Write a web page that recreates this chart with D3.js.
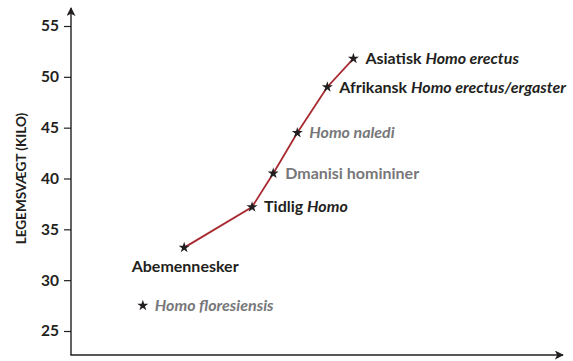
<!DOCTYPE html>
<html>
<head>
<meta charset="utf-8">
<script src="https://cdn.jsdelivr.net/npm/d3@7/dist/d3.min.js"></script>
<style>
  html, body { margin: 0; padding: 0; background: #fff; }
  svg { display: block; font-family: Lato, "Open Sans", sans-serif; }
</style>
</head>
<body>
<svg id="chart" width="573" height="361"></svg>
<script>
// Hominin groups: relative position along the x axis and body mass (kg)
const names = ["Abemennesker", "Tidlig Homo", "Dmanisi homininer", "Homo naledi",
  "Afrikansk Homo erectus/ergaster", "Asiatisk Homo erectus", "Homo floresiensis"];
const xPos = [23.0, 36.8, 41.1, 46.0, 52.1, 57.4, 14.6];
const mass = [33.2, 37.2, 40.5, 44.5, 49.0, 51.8, 27.5];
// which groups sit on the connected trend line
const onLine = [true, true, true, true, true, true, false];
// label text parts: [text, italic]
const labelParts = [
  [["Abemennesker", false]],
  [["Tidlig ", false], ["Homo", true]],
  [["Dmanisi homininer", false]],
  [["Homo naledi", true]],
  [["Afrikansk ", false], ["Homo erectus/ergaster", true]],
  [["Asiatisk ", false], ["Homo erectus", true]],
  [["Homo floresiensis", true]]
];
const labelGray = [false, false, true, true, false, false, true];
const yTicks = [25, 30, 35, 40, 45, 50, 55];

const svg = d3.select("#chart");
const dark = "#231f20", gray = "#77777a", red = "#a82a31";

const x = d3.scaleLinear().domain([0, 100]).range([71, 563]);
const y = d3.scaleLinear().domain([25, 55]).range([331, 26]);
const x0 = 71, yBase = 355;

// arrowhead
svg.append("defs").append("marker")
  .attr("id", "arrow").attr("viewBox", "0 0 10 10")
  .attr("refX", 9).attr("refY", 5)
  .attr("markerWidth", 9).attr("markerHeight", 9)
  .attr("markerUnits", "userSpaceOnUse")
  .attr("orient", "auto")
  .append("path").attr("d", "M0,0 L10,5 L0,10 L2.5,5 Z").attr("fill", dark);

// y axis
const yAxis = svg.append("g")
  .attr("transform", `translate(${x0},0)`)
  .call(d3.axisLeft(y).tickValues(yTicks).tickSize(7).tickPadding(5).tickFormat(d3.format("d")));
yAxis.select(".domain").remove();
yAxis.selectAll(".tick line").attr("stroke", dark).attr("stroke-width", 1.2);
yAxis.selectAll(".tick text")
  .attr("fill", dark).attr("font-size", 15.5).attr("font-weight", 700)
  .attr("font-family", "Lato, sans-serif");

svg.append("line")
  .attr("x1", x0).attr("y1", yBase).attr("x2", x0).attr("y2", 8)
  .attr("stroke", dark).attr("stroke-width", 1.4)
  .attr("marker-end", "url(#arrow)");

svg.append("line")
  .attr("x1", x0 - 0.7).attr("y1", yBase).attr("x2", x.range()[1]).attr("y2", yBase)
  .attr("stroke", dark).attr("stroke-width", 1.4)
  .attr("marker-end", "url(#arrow)");

// y axis title
svg.append("text")
  .attr("transform", `translate(26,${(y(25) + y(55)) / 2}) rotate(-90)`)
  .attr("text-anchor", "middle")
  .attr("fill", dark).attr("font-size", 13.5).attr("font-weight", 700)
  .text("LEGEMSVÆGT (KILO)");

const pts = names.map((n, i) => ({ name: n, x: xPos[i], y: mass[i], line: onLine[i], parts: labelParts[i], gray: labelGray[i] }));

// trend line
svg.append("path")
  .datum(pts.filter(d => d.line))
  .attr("fill", "none").attr("stroke", red).attr("stroke-width", 1.8)
  .attr("d", d3.line().x(d => x(d.x)).y(d => y(d.y)));

// star markers
svg.selectAll(".star").data(pts).join("path")
  .attr("class", "star")
  .attr("transform", d => `translate(${x(d.x)},${y(d.y)})`)
  .attr("d", d3.symbol(d3.symbolStar, 38))
  .attr("fill", dark);

// labels
const lbl = svg.selectAll(".lbl").data(pts).join("text")
  .attr("class", "lbl")
  .attr("font-size", 16).attr("font-weight", 700)
  .attr("fill", d => d.gray ? gray : dark)
  .attr("x", d => d.name === "Abemennesker" ? x(d.x) + 1 : x(d.x) + 12)
  .attr("y", d => d.name === "Abemennesker" ? y(d.y) + 24 : y(d.y) + 5.5)
  .attr("text-anchor", d => d.name === "Abemennesker" ? "middle" : "start");
lbl.selectAll("tspan").data(d => d.parts).join("tspan")
  .attr("font-style", p => p[1] ? "italic" : "normal")
  .text(p => p[0]);
</script>
</body>
</html>
